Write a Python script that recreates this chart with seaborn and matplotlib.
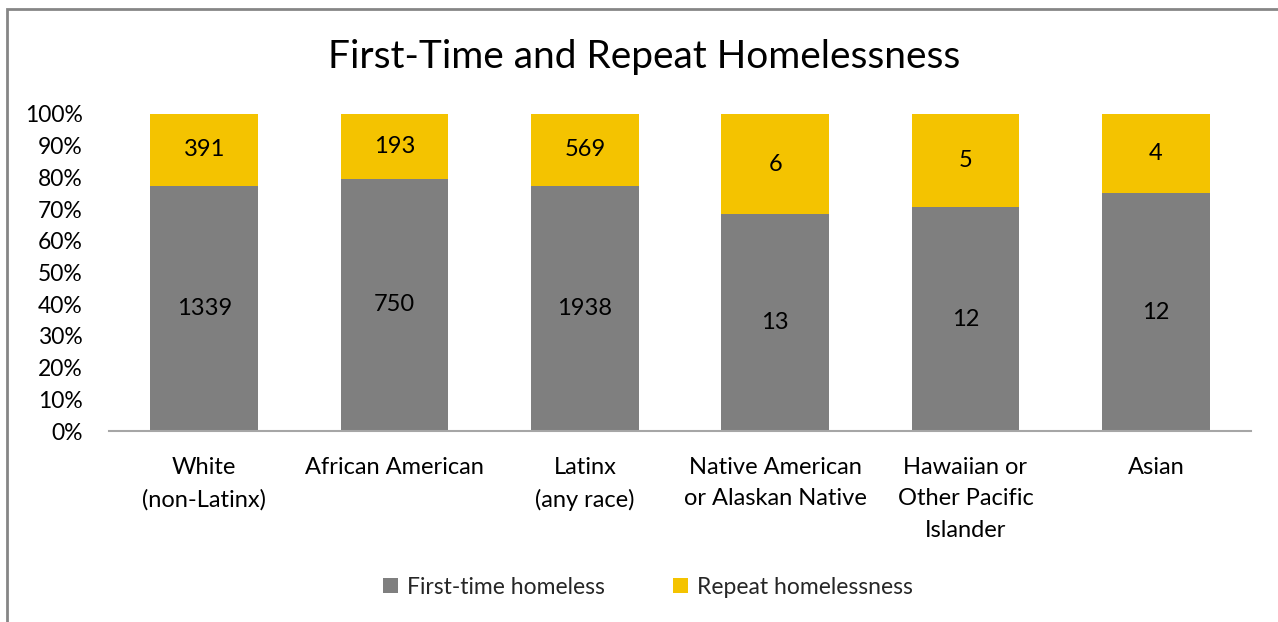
import matplotlib
matplotlib.use("Agg")
import matplotlib.pyplot as plt
from matplotlib.patches import Rectangle, Patch
from matplotlib.ticker import PercentFormatter
import numpy as np
import pandas as pd
import seaborn as sns

categories = ["White\n(non-Latinx)", "African American", "Latinx\n(any race)",
              "Native American\nor Alaskan Native", "Hawaiian or\nOther Pacific\nIslander", "Asian"]
first_time = [1339, 750, 1938, 13, 12, 12]
repeat = [391, 193, 569, 6, 5, 4]
series_names = ["First-time homeless", "Repeat homelessness"]
colors = ["#7F7F7F", "#F4C300"]

sns.set_theme(style="white")
plt.rcParams["font.family"] = ["Lato", "DejaVu Sans"]

first_arr = np.array(first_time, dtype=float)
rep_arr = np.array(repeat, dtype=float)
total = first_arr + rep_arr
df = pd.DataFrame({
    "group": categories,
    "first_share": first_arr / total,
    "total_share": total / total,
})

fig = plt.figure(figsize=(12.78, 6.22), dpi=100)
ax = fig.add_axes([109 / 1278, 1 - 431 / 622, (1251 - 109) / 1278, (431 - 114) / 622])

# Stack: full-height repeat bar underneath, first-time share drawn over it
sns.barplot(data=df, x="group", y="total_share", color=colors[1], width=0.567,
            saturation=1, ax=ax, linewidth=0)
sns.barplot(data=df, x="group", y="first_share", color=colors[0], width=0.567,
            saturation=1, ax=ax, linewidth=0)

ax.set_ylim(0, 1)
ax.set_xlim(-0.5, len(categories) - 0.5)
ax.set_yticks(np.arange(0, 1.01, 0.1))
ax.yaxis.set_major_formatter(PercentFormatter(1.0, decimals=0))
ax.set_xlabel("")
ax.set_ylabel("")
ax.tick_params(axis="y", labelsize=16.5, length=0, pad=19, colors="black")
ax.tick_params(axis="x", labelsize=17, length=0, pad=18.5, colors="black")
ax.grid(False)
for side in ["top", "right", "left"]:
    ax.spines[side].set_visible(False)
ax.spines["bottom"].set_color("#A6A6A6")
ax.spines["bottom"].set_linewidth(1.5)
ax.set_facecolor("none")
for lbl in ax.get_xticklabels():
    lbl.set_linespacing(1.63)
    lbl.set_verticalalignment("top")

# Segment value labels
for i in range(len(categories)):
    fs = first_arr[i] / total[i]
    ax.text(i, fs / 2, f"{first_time[i]}", ha="center", va="center", fontsize=17, color="black")
    ax.text(i, fs + (1 - fs) / 2, f"{repeat[i]}", ha="center", va="center", fontsize=17, color="black")

fig.text(644 / 1278, 1 - 57 / 622, "First-Time and Repeat Homelessness",
         ha="center", va="center", fontsize=28, color="black")

handles = [Patch(facecolor=c, edgecolor="none") for c in colors]
fig.legend(handles, series_names, loc="center", bbox_to_anchor=(648 / 1278, 1 - 587 / 622),
           ncol=2, frameon=False, fontsize=16.5, handlelength=0.65, handleheight=0.65,
           handletextpad=0.4, columnspacing=3.0)

# Outer chart border
fig.patches.append(Rectangle((7 / 1278, -0.1), 1.2, 1 - 9 / 622 + 0.1, transform=fig.transFigure,
                             fill=False, edgecolor="#868686", linewidth=2))

fig.savefig("out.png", dpi=100, facecolor="white")
